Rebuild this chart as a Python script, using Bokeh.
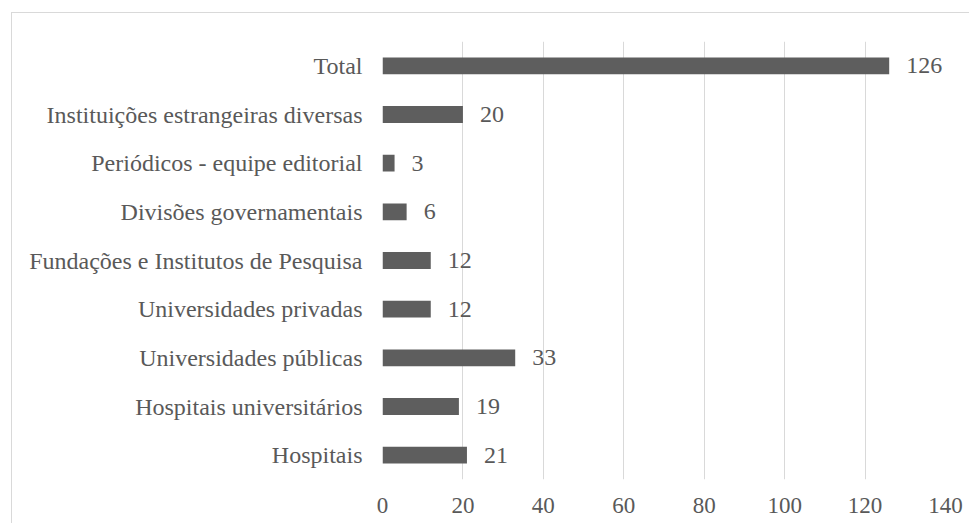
from bokeh.plotting import figure
from bokeh.models import ColumnDataSource, Range1d, FactorRange, FixedTicker
from bokeh.core.properties import value
from bokeh.embed import file_html
from bokeh.resources import INLINE

categories = [
    "Hospitais",
    "Hospitais universitários",
    "Universidades públicas",
    "Universidades privadas",
    "Fundações e Institutos de Pesquisa",
    "Divisões governamentais",
    "Periódicos - equipe editorial",
    "Instituições estrangeiras diversas",
    "Total",
]
counts = [21, 19, 33, 12, 12, 6, 3, 20, 126]
x_ticks = [0, 20, 40, 60, 80, 100, 120, 140]

FONT = "Liberation Serif"
TEXT = "#595959"
GRID = "#d9d9d9"

src = ColumnDataSource(dict(cat=categories, v=counts, lab=[str(c) for c in counts]))

p = figure(
    width=958, height=511,
    y_range=FactorRange(*categories),
    x_range=Range1d(0, 140),
    output_backend="svg", toolbar_location=None,
    min_border_left=370, min_border_right=25,
    min_border_top=28, min_border_bottom=45,
)
p.margin = (12, 0, 0, 11)
p.styles = {"border-left": "1px solid #d9d9d9", "border-top": "1px solid #d9d9d9"}
p.outline_line_color = None
p.background_fill_color = "white"
p.border_fill_color = "white"

p.hbar(y="cat", right="v", left=0, height=0.345, source=src,
       fill_color="#5e5e5e", line_color=None)

p.text(x="v", y="cat", text="lab", source=src, x_offset=17,
       text_baseline="middle", text_align="left",
       text_font=value(FONT), text_font_size="24px", text_color=TEXT)

p.xaxis.ticker = FixedTicker(ticks=x_ticks)
p.xgrid.ticker = FixedTicker(ticks=x_ticks)
p.xgrid.grid_line_color = GRID
p.xgrid.grid_line_width = 1
p.ygrid.grid_line_color = None

for ax in (p.xaxis, p.yaxis):
    ax.axis_line_color = None
    ax.major_tick_line_color = None
    ax.minor_tick_line_color = None
    ax.major_tick_out = 0
    ax.major_tick_in = 0
    ax.major_label_text_font = FONT
    ax.major_label_text_color = TEXT

p.xaxis.major_label_text_font_size = "23px"
p.yaxis.major_label_text_font_size = "24px"

p.xaxis.major_label_standoff = 18
p.yaxis.major_label_standoff = 20

open("out.html", "w").write(file_html(p, INLINE))
